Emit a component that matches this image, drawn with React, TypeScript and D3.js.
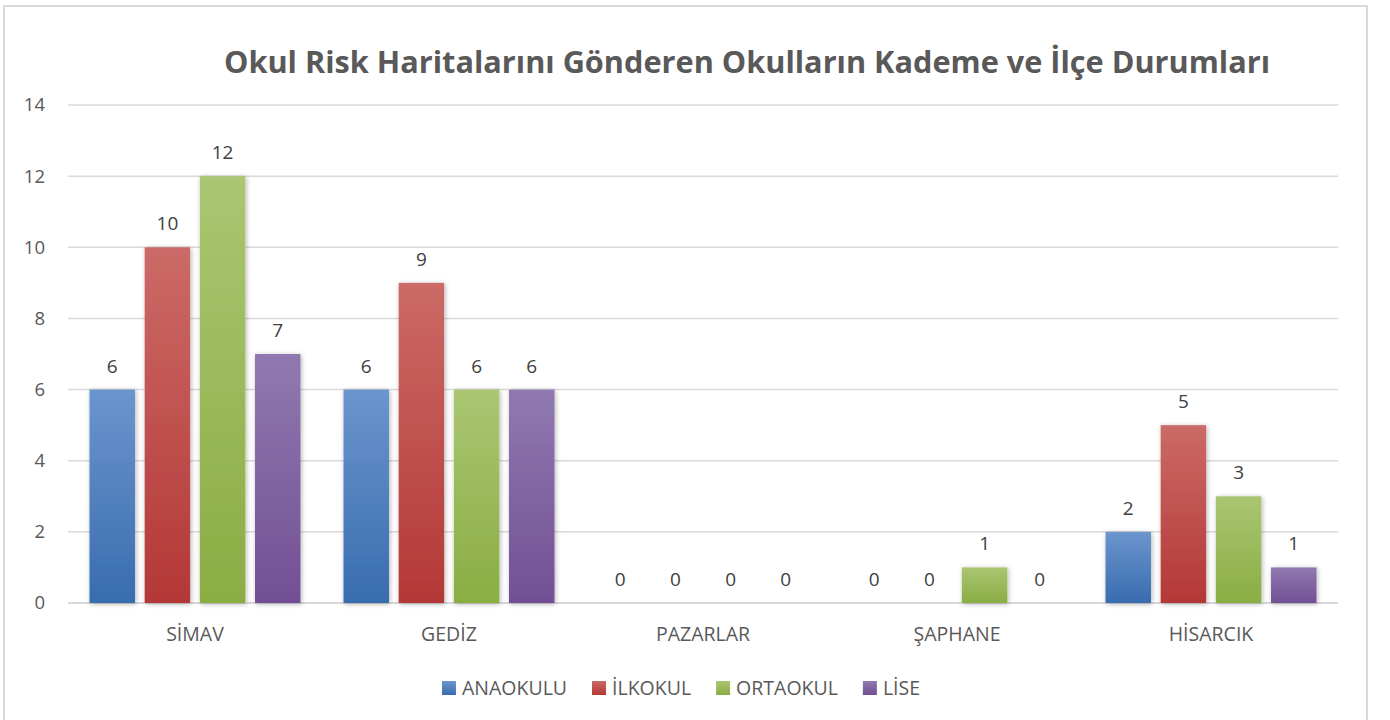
import { useEffect, useRef } from 'react';
import * as d3 from 'd3';

const categories = ['SİMAV', 'GEDİZ', 'PAZARLAR', 'ŞAPHANE', 'HİSARCIK'];
const seriesNames = ['ANAOKULU', 'İLKOKUL', 'ORTAOKUL', 'LİSE'];
const anaokulu = [6, 6, 0, 0, 2];
const ilkokul = [10, 9, 0, 0, 5];
const ortaokul = [12, 6, 0, 1, 3];
const lise = [7, 6, 0, 0, 1];
const yTicks = [0, 2, 4, 6, 8, 10, 12, 14];

const TITLE = 'Okul Risk Haritalarını Gönderen Okulların Kademe ve İlçe Durumları';

// top / bottom colours of each bar gradient
const GRADIENTS = [
  ['#6C95CD', '#386CAF'],
  ['#CB6A67', '#B43836'],
  ['#AAC672', '#8AAD43'],
  ['#9079B0', '#724F94'],
];

const FONT = "'Open Sans', 'Noto Sans', sans-serif";
const WIDTH = 1390;
const HEIGHT = 720;

export default function App() {
  const svgRef = useRef<SVGSVGElement>(null);

  useEffect(() => {
    if (!svgRef.current) return;
    const svg = d3.select(svgRef.current);
    svg.selectAll('*').remove();

    const plot = { left: 68, right: 1338, top: 105, bottom: 603 };
    const values = [anaokulu, ilkokul, ortaokul, lise];

    const defs = svg.append('defs');
    GRADIENTS.forEach((c, i) => {
      const lg = defs
        .append('linearGradient')
        .attr('id', `grad${i}`)
        .attr('x1', 0)
        .attr('y1', 0)
        .attr('x2', 0)
        .attr('y2', 1);
      lg.append('stop').attr('offset', '0%').attr('stop-color', c[0]);
      lg.append('stop').attr('offset', '100%').attr('stop-color', c[1]);
    });
    defs
      .append('filter')
      .attr('id', 'shadow')
      .attr('x', '-30%')
      .attr('y', '-10%')
      .attr('width', '160%')
      .attr('height', '130%')
      .append('feDropShadow')
      .attr('dx', 1)
      .attr('dy', 1)
      .attr('stdDeviation', 2.5)
      .attr('flood-color', '#000')
      .attr('flood-opacity', 0.3);

    // chart border
    svg
      .append('rect')
      .attr('x', 4)
      .attr('y', 6)
      .attr('width', 1363)
      .attr('height', 730)
      .attr('fill', '#fff')
      .attr('stroke', '#D9D9D9')
      .attr('stroke-width', 2);

    // Scales
    const x0 = d3
      .scaleBand()
      .domain(categories)
      .range([plot.left, plot.right])
      .paddingInner(0)
      .paddingOuter(0);

    const x1 = d3
      .scaleBand()
      .domain(seriesNames)
      .range([0, x0.bandwidth()])
      .paddingInner(0.176)
      .paddingOuter(0.39);

    const y = d3.scaleLinear().domain([0, 14]).range([plot.bottom, plot.top]);

    // gridlines
    svg
      .append('g')
      .selectAll('line')
      .data(yTicks)
      .join('line')
      .attr('x1', plot.left)
      .attr('x2', plot.right)
      .attr('y1', (d) => y(d))
      .attr('y2', (d) => y(d))
      .attr('stroke', '#D9D9D9')
      .attr('stroke-width', (d) => (d === 0 ? 2 : 1.5));

    // y tick labels
    svg
      .append('g')
      .selectAll('text')
      .data(yTicks)
      .join('text')
      .attr('x', 45)
      .attr('y', (d) => y(d))
      .attr('dy', '0.35em')
      .attr('text-anchor', 'end')
      .attr('font-family', FONT)
      .attr('font-size', 18.5)
      .attr('fill', '#595959')
      .text((d) => d);

    // bars
    const data = categories.flatMap((cat, ci) =>
      seriesNames.map((s, si) => ({ cat, s, si, v: values[si][ci] }))
    );

    svg
      .append('g')
      .selectAll('rect')
      .data(data.filter((d) => d.v > 0))
      .join('rect')
      .attr('x', (d) => (x0(d.cat) || 0) + (x1(d.s) || 0))
      .attr('width', x1.bandwidth())
      .attr('y', (d) => y(d.v))
      .attr('height', (d) => y(0) - y(d.v))
      .attr('fill', (d) => `url(#grad${d.si})`)
      .attr('filter', 'url(#shadow)');

    // value labels
    svg
      .append('g')
      .selectAll('text')
      .data(data)
      .join('text')
      .attr('x', (d) => (x0(d.cat) || 0) + (x1(d.s) || 0) + x1.bandwidth() / 2)
      .attr('y', (d) => y(d.v) - 17)
      .attr('text-anchor', 'middle')
      .attr('font-family', FONT)
      .attr('font-size', 19)
      .attr('fill', '#404040')
      .text((d) => d.v);

    // category labels
    svg
      .append('g')
      .selectAll('text')
      .data(categories)
      .join('text')
      .attr('x', (d) => (x0(d) || 0) + x0.bandwidth() / 2)
      .attr('y', 641)
      .attr('text-anchor', 'middle')
      .attr('font-family', FONT)
      .attr('font-size', 19.5)
      .attr('fill', '#595959')
      .text((d) => d);

    // title
    svg
      .append('text')
      .attr('x', 747)
      .attr('y', 73)
      .attr('text-anchor', 'middle')
      .attr('font-family', FONT)
      .attr('font-weight', 'bold')
      .attr('font-size', 30)
      .attr('fill', '#595959')
      .attr('textLength', 1046)
      .attr('lengthAdjust', 'spacingAndGlyphs')
      .text(TITLE);

    // legend
    const legend = svg.append('g');
    const items = seriesNames.map((name, i) => {
      const g = legend.append('g');
      g.append('rect')
        .attr('y', 681)
        .attr('width', 14)
        .attr('height', 14)
        .attr('fill', `url(#grad${i})`);
      const t = g
        .append('text')
        .attr('x', 20)
        .attr('y', 695)
        .attr('font-family', FONT)
        .attr('font-size', 19.5)
        .attr('fill', '#595959')
        .text(name);
      const w = (t.node() as SVGTextElement).getComputedTextLength();
      return { g, w: 20 + w };
    });
    const gap = 25;
    const total = d3.sum(items, (d) => d.w) + gap * (items.length - 1);
    let cx = 681 - total / 2;
    items.forEach((it) => {
      it.g.attr('transform', `translate(${cx},0)`);
      cx += it.w + gap;
    });
  }, []);

  return (
    <svg
      ref={svgRef}
      width={WIDTH}
      height={HEIGHT}
      style={{ position: 'absolute', left: 0, top: 0, background: '#fff' }}
    />
  );
}
